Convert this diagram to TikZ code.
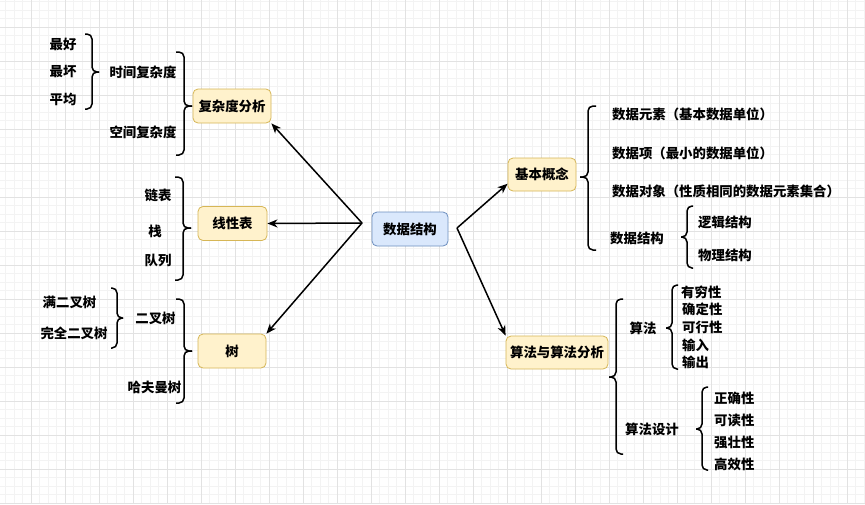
\documentclass[tikz,border=0pt]{standalone}
\usepackage{fontspec}
\newfontfamily\cjk{Noto Sans CJK SC}
\usetikzlibrary{arrows.meta}
\definecolor{yfill}{HTML}{FFF2CC}
\definecolor{ydraw}{HTML}{D6B656}
\definecolor{bfill}{HTML}{DAE8FC}
\definecolor{bdraw}{HTML}{6C8EBF}
\definecolor{gridminor}{HTML}{F3F3F3}
\definecolor{gridmajor}{HTML}{E2E2E2}
\tikzset{
  txt/.style={font=\cjk\bfseries\fontsize{13.4}{15}\selectfont, inner sep=0pt},
  ybox/.style={txt, draw=ydraw, fill=yfill, rounded corners=5pt, line width=0.8pt, minimum height=34pt},
  bbox/.style={txt, draw=bdraw, fill=bfill, rounded corners=5pt, line width=0.8pt, minimum height=34pt},
  arr/.style={line width=1.5pt, -{Stealth[length=10pt,width=8pt,inset=3pt]}},
  brc/.style={line width=1.5pt, rounded corners=5pt},
}
% right-facing brace: x, ytop, ymid, ybot, w
\newcommand\rbrc[5]{\draw[brc] (#1-#5,#2) -- (#1,#2) -- (#1,#3) -- (#1+#5,#3);
  \draw[brc] (#1+#5,#3) -- (#1,#3) -- (#1,#4) -- (#1-#5,#4);}
% left-facing brace
\newcommand\lbrc[5]{\draw[brc] (#1+#5,#2) -- (#1,#2) -- (#1,#3) -- (#1-#5,#3);
  \draw[brc] (#1-#5,#3) -- (#1,#3) -- (#1,#4) -- (#1+#5,#4);}
\begin{document}
\begin{tikzpicture}[x=1pt,y=-1pt]
\useasboundingbox (0,0) rectangle (865,504);
\clip (0,0) rectangle (865,504);
\fill[white] (0,0) rectangle (865,504);
\foreach \i in {0,...,102} {\draw[gridminor, line width=0.5pt] ({31+8.5*(\i-4)},0) -- ++(0,504);}
\foreach \j in {0,...,63} {\draw[gridminor, line width=0.5pt] (0,{27+8.5*(\j-4)}) -- ++(865,0);}
\foreach \i in {0,...,24} {\draw[gridmajor, line width=0.6pt] ({31+34*\i},0) -- ++(0,504);}
\foreach \j in {0,...,14} {\draw[gridmajor, line width=0.6pt] (0,{27+34*\j}) -- ++(865,0);}

% main nodes
\node[bbox, minimum width=76pt] (ds) at (410,229) {数据结构};
\node[ybox, minimum width=78pt] (fzd) at (232,106) {复杂度分析};
\node[ybox, minimum width=69pt] (xxb) at (232.5,223.5) {线性表};
\node[ybox, minimum width=68pt] (tree) at (232,351) {树};
\node[ybox, minimum width=68pt, minimum height=33pt] (jbgn) at (542,174.5) {基本概念};
\node[ybox, minimum width=102pt, minimum height=33pt] (sf) at (557,352.5) {算法与算法分析};

% connectors
\coordinate (jL) at (362,223);
\coordinate (jR) at (457,228);
\draw[arr] (jL) -- (fzd.south east);
\draw[arr] (jL) -- (xxb.east);
\draw[arr] (jL) -- (tree.north east);
\draw[arr] (jR) -- (jbgn.195);
\draw[arr] (jR) -- (sf.north west);

% left braces
\rbrc{184}{52}{106}{155}{8}
\rbrc{92}{34}{72}{109}{7}
\rbrc{183}{177}{228}{280}{8}
\rbrc{184}{299}{351}{403}{8}
\rbrc{117}{288}{318}{348}{6}
% right braces
\lbrc{588}{106}{177}{250}{8}
\lbrc{687}{206}{237}{268}{6}
\lbrc{616}{299}{377}{454}{7}
\lbrc{672}{285}{328}{369}{6}
\lbrc{702}{387}{429}{470}{6}

% left texts
\node[txt] (zh) at (63,44) {最好};
\node[txt] (zhu) at (63,72) {最坏};
\node[txt] (pj) at (63,99) {平均};
\node[txt] (sj) at (143,72) {时间复杂度};
\node[txt] (kj) at (143,132) {空间复杂度};
\node[txt] (lb) at (158,195) {链表};
\node[txt] (zhan) at (155,231) {栈};
\node[txt] (dl) at (158,261) {队列};
\node[txt] (mecs) at (69.5,302) {满二叉树};
\node[txt] (wqecs) at (74,333) {完全二叉树};
\node[txt] (ecs) at (155.5,318) {二叉树};
\node[txt] (hfms) at (154.5,387) {哈夫曼树};

% right texts
\node[txt, anchor=west] (sjys) at (612,114) {数据元素（基本数据单位）};
\node[txt, anchor=west] (sjx) at (612,153) {数据项（最小的数据单位）};
\node[txt, anchor=west] (sjdx) at (612,191) {数据对象（性质相同的数据元素集合）};
\node[txt, anchor=west] (sjjg) at (610,238) {数据结构};
\node[txt, anchor=west] (ljjg) at (698,222) {逻辑结构};
\node[txt, anchor=west] (wljg) at (698,255) {物理结构};
\node[txt] (sfa) at (643,328) {算法};
\node[txt] (sfsj) at (652,429) {算法设计};
\node[txt, anchor=west] (yqx) at (681,292) {有穷性};
\node[txt, anchor=west] (qdx) at (682,309) {确定性};
\node[txt, anchor=west] (kxx) at (682,327) {可行性};
\node[txt, anchor=west] (sr) at (682,345) {输入};
\node[txt, anchor=west] (sc) at (682,362) {输出};
\node[txt, anchor=west] (zqx) at (714,398) {正确性};
\node[txt, anchor=west] (kdx) at (714,420) {可读性};
\node[txt, anchor=west] (qzx) at (714,442) {强壮性};
\node[txt, anchor=west] (gxx) at (714,464) {高效性};
\end{tikzpicture}
\end{document}
